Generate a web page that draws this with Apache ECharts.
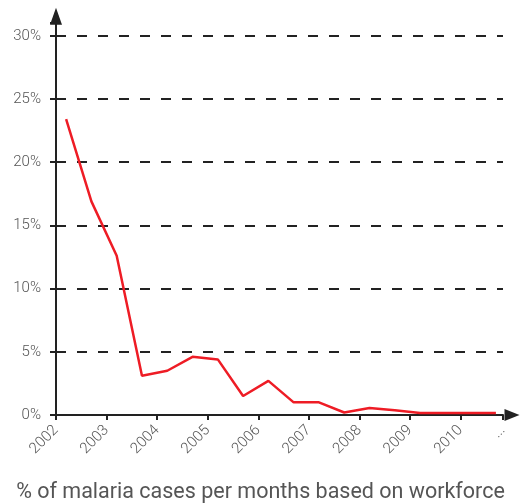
<!DOCTYPE html>
<html>
<head>
<meta charset="utf-8">
<script src="https://cdn.jsdelivr.net/npm/echarts@6/dist/echarts.min.js"></script>
<style>
    html, body { margin: 0; padding: 0; background: #fff; }
    #malariaChart { width: 521px; height: 504px; }
</style>
</head>
<body>
<div id="malariaChart"></div>
<script>
// half-year points
var periods = [2002.2, 2002.7, 2003.2, 2003.7, 2004.2, 2004.7, 2005.2, 2005.7, 2006.2,
    2006.7, 2007.2, 2007.7, 2008.2, 2008.7, 2009.2, 2009.7, 2010.2, 2010.7];
var casesPct = [23.4, 16.9, 12.6, 3.1, 3.5, 4.6, 4.4, 1.5, 2.7,
    1.0, 1.0, 0.2, 0.55, 0.37, 0.15, 0.15, 0.15, 0.15];
var yearMin = 2002;
var yearMax = 2010.84;
var pctMax = 31;
var chartTitle = '% of malaria cases per months based on workforce';

var malariaEchart;

function initMalariaGraph() {
    malariaEchart = echarts.init(document.getElementById('malariaChart'));
    var points = [];
    for (var i = 0; i < periods.length; i++) {
        points.push([periods[i], casesPct[i]]);
    }
    var malariaOptions = {
        animation: false,
        title: {
            text: chartTitle,
            left: 'center',
            top: 477,
            textStyle: {
                color: '#555',
                fontSize: 21.5,
                fontWeight: 'normal',
                fontFamily: 'Roboto'
            }
        },
        grid: {
            left: 56,
            right: 18,
            top: 415 - pctMax * 12.64,
            bottom: 89,
            containLabel: false,
            outerBoundsMode: 'none'
        },
        xAxis: {
            type: 'value',
            min: yearMin,
            max: yearMax,
            interval: 1,
            axisLine: {
                show: true,
                symbol: ['none', 'triangle'],
                symbolSize: [12, 15],
                symbolOffset: [0, 9],
                lineStyle: {
                    color: '#222',
                    width: 2
                }
            },
            axisTick: {
                show: true,
                length: 5,
                lineStyle: {
                    color: '#222',
                    width: 2
                }
            },
            axisLabel: {
                show: true,
                rotate: 45,
                margin: 13,
                showMinLabel: true,
                showMaxLabel: true,
                color: '#555',
                fontSize: 15,
                fontFamily: 'Roboto',
                fontWeight: 300,
                formatter: function (v) {
                    if (Math.abs(v - Math.round(v)) < 0.001) {
                        return String(Math.round(v));
                    }
                    return v > 2010 ? '...' : '';
                }
            },
            splitLine: {
                show: false
            }
        },
        yAxis: {
            type: 'value',
            min: 0,
            max: pctMax,
            interval: 5,
            axisLine: {
                show: true,
                symbol: ['none', 'triangle'],
                symbolSize: [12, 17],
                symbolOffset: [0, 7],
                lineStyle: {
                    color: '#222',
                    width: 2
                }
            },
            axisTick: {
                show: true,
                length: 6,
                lineStyle: {
                    color: '#222',
                    width: 2
                }
            },
            axisLabel: {
                show: true,
                margin: 15,
                color: '#555',
                fontSize: 15,
                fontFamily: 'Roboto',
                fontWeight: 300,
                formatter: function (v) {
                    return v % 5 === 0 ? v + '%' : '';
                }
            },
            splitLine: {
                show: true,
                showMinLine: false,
                showMaxLine: false,
                lineStyle: {
                    color: '#222',
                    width: 2,
                    type: [10, 11]
                }
            }
        },
        series: [{
            name: 'malaria',
            type: 'line',
            data: points,
            symbol: 'none',
            z: 5,
            lineStyle: {
                color: '#ee1c25',
                width: 2.5
            }
        }]
    };
    malariaEchart.setOption(malariaOptions);
}

initMalariaGraph();
window.addEventListener('resize', function () {
    malariaEchart.resize();
});
</script>
</body>
</html>
